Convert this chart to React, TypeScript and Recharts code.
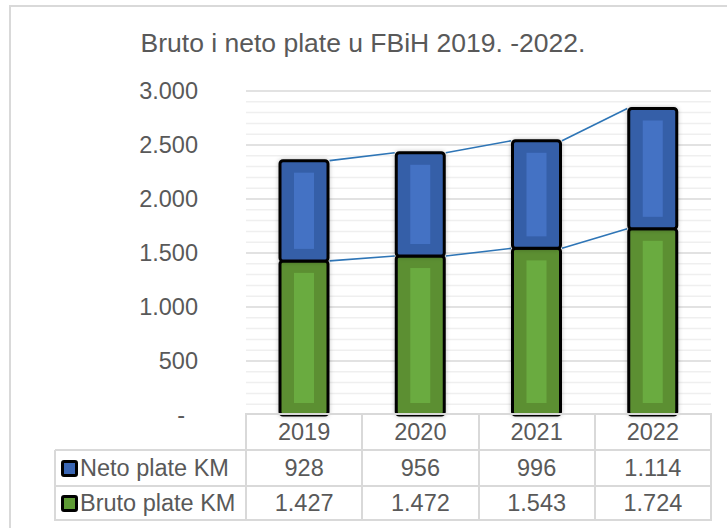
import React from "react";
import { BarChart, Bar, XAxis, YAxis, CartesianGrid } from "recharts";

const years = ["2019", "2020", "2021", "2022"];
const netoPlate = [928, 956, 996, 1114];
const brutoPlate = [1427, 1472, 1543, 1724];
const yTicks = [0, 500, 1000, 1500, 2000, 2500, 3000];
const minorTicks = Array.from({ length: 30 }, (_, i) => i * 100).filter((v) => v > 0 && v % 500 !== 0);

const FONT = "'Liberation Sans', Arial, sans-serif";
const TEXT = "#595959";
const GRID = "#d9d9d9";
const W = 727;
const H = 528;
const PLOT_LEFT = 246;
const PLOT_RIGHT = 711;
const PLOT_TOP = 91;
const PLOT_BOTTOM = 415;
const catW = (PLOT_RIGHT - PLOT_LEFT) / years.length;

const data = years.map((year, i) => ({ year, bruto: brutoPlate[i], neto: netoPlate[i] }));

// format 1427 -> "1.427"
const fmt = (v: number) => {
  if (v === 0) return "-";
  return String(v).replace(/\B(?=(\d{3})+(?!\d))/g, ".");
};

const YTick = (props: any) => {
  const { x, y, payload } = props;
  const v = payload.value;
  return (
    <text x={v === 0 ? x - 13 : x} y={y} dy="0.36em" textAnchor="end" fill={TEXT} fontSize={23.5} fontFamily={FONT}>
      {fmt(v)}
    </text>
  );
};

// bar segment with lighter inner panel + series line to next bar
const makeShape = (kind: "bruto" | "neto", outer: string, inner: string) => (props: any) => {
  const { x, y, width, height, index, payload } = props;
  const ppu = height / payload[kind];
  const zeroY = kind === "bruto" ? y + height : y + height + payload.bruto * ppu;
  let line = null;
  if (index < years.length - 1) {
    const nextCum = kind === "bruto" ? brutoPlate[index + 1] : brutoPlate[index + 1] + netoPlate[index + 1];
    const nextY = zeroY - nextCum * ppu;
    line = <line x1={x + width + 1.5} y1={y} x2={x + catW - 1.5} y2={nextY} stroke="#2e75b6" strokeWidth={1.6} />;
  }
  return (
    <g>
      <rect x={x} y={y} width={width} height={height} rx={3} fill={outer} stroke="#000" strokeWidth={3} filter="url(#barShadow)" />
      <rect x={x + 14} y={y + 12} width={width - 28} height={Math.max(0, height - 24)} fill={inner} />
      {line}
    </g>
  );
};

const BrutoShape = makeShape("bruto", "#5b8f33", "#6aab40");
const NetoShape = makeShape("neto", "#345ea8", "#4472c4");

const hLines = [
  { y: 414, x1: PLOT_LEFT, x2: PLOT_RIGHT },
  { y: 450, x1: 55, x2: PLOT_RIGHT },
  { y: 486, x1: 55, x2: PLOT_RIGHT },
  { y: 520, x1: 55, x2: PLOT_RIGHT },
];

const rows = [
  { label: "Neto plate KM", color: "#3a66b4", values: netoPlate, top: 450, h: 36 },
  { label: "Bruto plate KM", color: "#5e9a35", values: brutoPlate, top: 486, h: 34 },
];

export default function App() {
  return (
    <div style={{ position: "absolute", left: 0, top: 0, width: W, height: H, overflow: "hidden", background: "#fff", fontFamily: FONT }}>
      <div style={{ position: "absolute", left: 9, top: 5, width: 800, height: 600, border: `2px solid ${GRID}`, boxSizing: "border-box" }} />
      <svg width={W} height={70} style={{ position: "absolute", left: 0, top: 0 }}>
        <text x={363} y={52} textAnchor="middle" fill={TEXT} fontSize={26.5} fontFamily={FONT}>
          Bruto i neto plate u FBiH 2019. -2022.
        </text>
      </svg>
      <div style={{ position: "absolute", left: 0, top: 0 }}>
        <BarChart width={W} height={H} data={data} margin={{ top: PLOT_TOP, right: W - PLOT_RIGHT, bottom: H - PLOT_BOTTOM, left: 0 }}>
          <defs>
            <filter id="barShadow" x="-30%" y="-10%" width="160%" height="120%">
              <feDropShadow dx="0" dy="0" stdDeviation="2" floodColor="#000" floodOpacity="0.25" />
            </filter>
          </defs>
          <CartesianGrid vertical={false} horizontalValues={minorTicks} stroke="#efefef" strokeWidth={1.5} />
          <CartesianGrid vertical={false} horizontalValues={yTicks.filter((v) => v > 0)} stroke={GRID} strokeWidth={1.5} />
          <XAxis dataKey="year" hide />
          <YAxis
            width={PLOT_LEFT}
            domain={[0, 3000]}
            ticks={yTicks}
            interval={0}
            tickLine={false}
            axisLine={false}
            tickSize={0}
            tickMargin={48}
            tick={<YTick />}
          />
          <Bar dataKey="bruto" stackId="a" barSize={48} shape={BrutoShape} isAnimationActive={false} />
          <Bar dataKey="neto" stackId="a" barSize={48} shape={NetoShape} isAnimationActive={false} />
        </BarChart>
      </div>
      {/* data table */}
      {hLines.map((l, i) => (
        <div key={"h" + i} style={{ position: "absolute", left: l.x1, top: l.y - 1, width: l.x2 - l.x1, height: 2, background: GRID }} />
      ))}
      <div style={{ position: "absolute", left: 54, top: 450, width: 2, height: 71, background: GRID }} />
      {years.concat([""]).map((_, i) => (
        <div key={"v" + i} style={{ position: "absolute", left: PLOT_LEFT + i * catW - 1, top: 413, width: 2, height: 108, background: GRID }} />
      ))}
      {years.map((y, i) => (
        <div key={"y" + y} style={{ position: "absolute", left: PLOT_LEFT + i * catW, top: 415, width: catW, height: 35, lineHeight: "35px", textAlign: "center", fontSize: 23.5, color: TEXT }}>
          {y}
        </div>
      ))}
      {rows.map((r) => (
        <React.Fragment key={r.label}>
          <div style={{ position: "absolute", left: 61, top: r.top + (r.h - 17) / 2, width: 17, height: 17, boxSizing: "border-box", border: "3px solid #000", borderRadius: 3, background: r.color }} />
          <div style={{ position: "absolute", left: 80, top: r.top, height: r.h, lineHeight: r.h + "px", fontSize: 23.5, color: TEXT, whiteSpace: "nowrap" }}>{r.label}</div>
          {r.values.map((v, i) => (
            <div key={i} style={{ position: "absolute", left: PLOT_LEFT + i * catW, top: r.top, width: catW, height: r.h, lineHeight: r.h + "px", textAlign: "center", fontSize: 23.5, color: TEXT }}>
              {fmt(v)}
            </div>
          ))}
        </React.Fragment>
      ))}
    </div>
  );
}
